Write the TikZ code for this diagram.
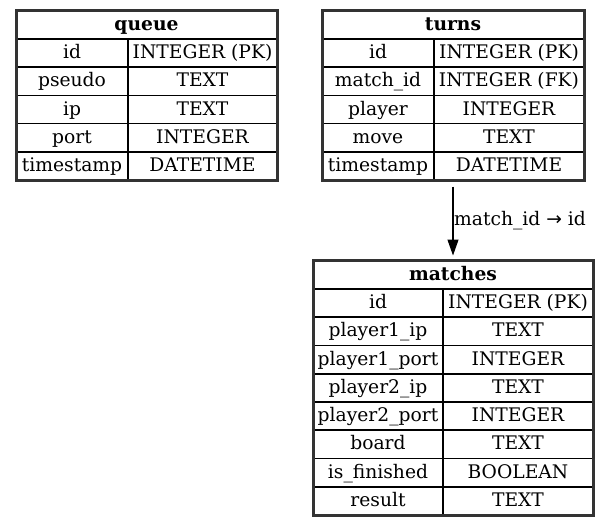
\documentclass[tikz,border=0pt]{standalone}
\usepackage{fontspec}
\setmainfont{DejaVu Serif}
\newfontfamily\arrowfont{DejaVu Sans}
\usetikzlibrary{arrows.meta}
\begin{document}
\begin{tikzpicture}[x=1pt,y=-1pt,
  txt/.style={font=\fontsize{18.7}{22}\selectfont},
  cell/.style={draw, line width=1.7pt, rectangle, inner sep=0pt, txt, text height=14pt, text depth=3pt},
  outerbox/.style={draw=black!80, line width=3pt, rectangle, inner sep=0pt},
  fk/.style={-{Triangle[length=16pt,width=11pt]}, line width=1.2pt, shorten <=5pt, shorten >=3pt}]
\useasboundingbox[fill=white] (0,0) rectangle (609,525);

% queue
\node[cell, minimum width=261pt, minimum height=29pt] (queue-h) at (146.5,24.5) {\textbf{queue}};
\foreach [count=\i] \f/\t in {id/INTEGER (PK), pseudo/TEXT, ip/TEXT, port/INTEGER, timestamp/DATETIME}{
  \node[cell, minimum width=112pt, minimum height=28.2pt] (queue-f\i) at (72,39+28.2*\i-14.1) {\f};
  \node[cell, minimum width=149pt, minimum height=28.2pt] (queue-t\i) at (202.5,39+28.2*\i-14.1) {\t};
}
\node[outerbox, minimum width=261pt, minimum height=170pt] (queue) at (146.5,95) {};

% turns
\node[cell, minimum width=262pt, minimum height=29pt] (turns-h) at (453,24.5) {\textbf{turns}};
\foreach [count=\i] \f/\t in {id/INTEGER (PK), match\_id/INTEGER (FK), player/INTEGER, move/TEXT, timestamp/DATETIME}{
  \node[cell, minimum width=112pt, minimum height=28.2pt] (turns-f\i) at (378,39+28.2*\i-14.1) {\f};
  \node[cell, minimum width=150pt, minimum height=28.2pt] (turns-t\i) at (509,39+28.2*\i-14.1) {\t};
}
\node[outerbox, minimum width=262pt, minimum height=170pt] (turns) at (453,95) {};

% matches
\node[cell, minimum width=280pt, minimum height=29pt] (matches-h) at (453,274.5) {\textbf{matches}};
\foreach [count=\i] \f/\t in {id/INTEGER (PK), player1\_ip/TEXT, player1\_port/INTEGER, player2\_ip/TEXT, player2\_port/INTEGER, board/TEXT, is\_finished/BOOLEAN, result/TEXT}{
  \node[cell, minimum width=130pt, minimum height=28.25pt] (matches-f\i) at (378,289+28.25*\i-14.125) {\f};
  \node[cell, minimum width=150pt, minimum height=28.25pt] (matches-t\i) at (518,289+28.25*\i-14.125) {\t};
}
\node[outerbox, minimum width=280pt, minimum height=255pt] (matches) at (453,387.5) {};

% relation
\draw[fk] (turns.south) -- (matches.north);
\node[txt, anchor=base west, inner sep=0pt] (fk-label) at (454,225) {match\_id {\arrowfont →} id};
\end{tikzpicture}
\end{document}
